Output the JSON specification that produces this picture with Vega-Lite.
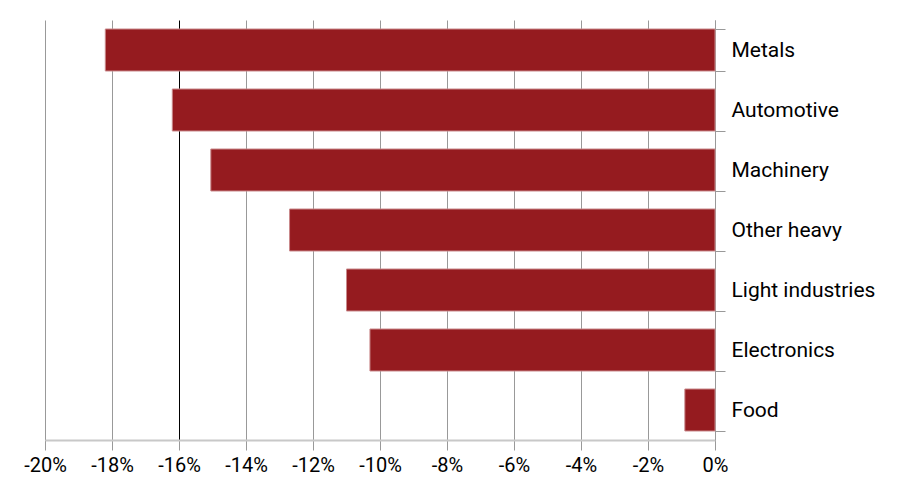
{
  "$schema": "https://vega.github.io/schema/vega-lite/v6.json",
  "width": 670,
  "height": 420,
  "autosize": {"type": "none"},
  "padding": {"left": 45, "top": 20, "right": 204, "bottom": 41},
  "background": "white",
  "config": {
    "view": {"stroke": null},
    "font": "Roboto"
  },
  "data": {
    "values": [
      {"sector": "Metals", "change": -18.2},
      {"sector": "Automotive", "change": -16.2},
      {"sector": "Machinery", "change": -15.05},
      {"sector": "Other heavy", "change": -12.7},
      {"sector": "Light industries", "change": -11.0},
      {"sector": "Electronics", "change": -10.3},
      {"sector": "Food", "change": -0.9}
    ]
  },
  "mark": {"type": "bar", "color": "#951b1f", "stroke": "#c9898b", "strokeWidth": 1},
  "encoding": {
    "y": {
      "field": "sector",
      "type": "nominal",
      "sort": null,
      "scale": {"paddingInner": 0.3, "paddingOuter": 0.15},
      "axis": {
        "orient": "right",
        "title": null,
        "tickBand": "extent",
        "tickSize": 10,
        "tickColor": "#999999",
        "domainColor": "#999999",
        "labelPadding": 6,
        "labelFontSize": 21,
        "labelColor": "#000000",
        "labelFont": "Roboto"
      }
    },
    "x": {
      "field": "change",
      "type": "quantitative",
      "scale": {"domain": [-20, 0], "nice": false},
      "axis": {
        "title": null,
        "values": [-20, -18, -16, -14, -12, -10, -8, -6, -4, -2, 0],
        "labelExpr": "datum.value + '%'",
        "labelFlush": false,
        "labelOverlap": false,
        "grid": true,
        "gridColor": {"condition": {"test": "datum.value === -16", "value": "#000000"}, "value": "#999999"},
        "gridWidth": 1,
        "tickSize": 10,
        "tickColor": "#999999",
        "domainColor": "#c8c8c8",
        "domainWidth": 2,
        "labelPadding": 5,
        "labelFontSize": 20,
        "labelColor": "#000000",
        "labelFont": "Roboto"
      }
    }
  }
}
